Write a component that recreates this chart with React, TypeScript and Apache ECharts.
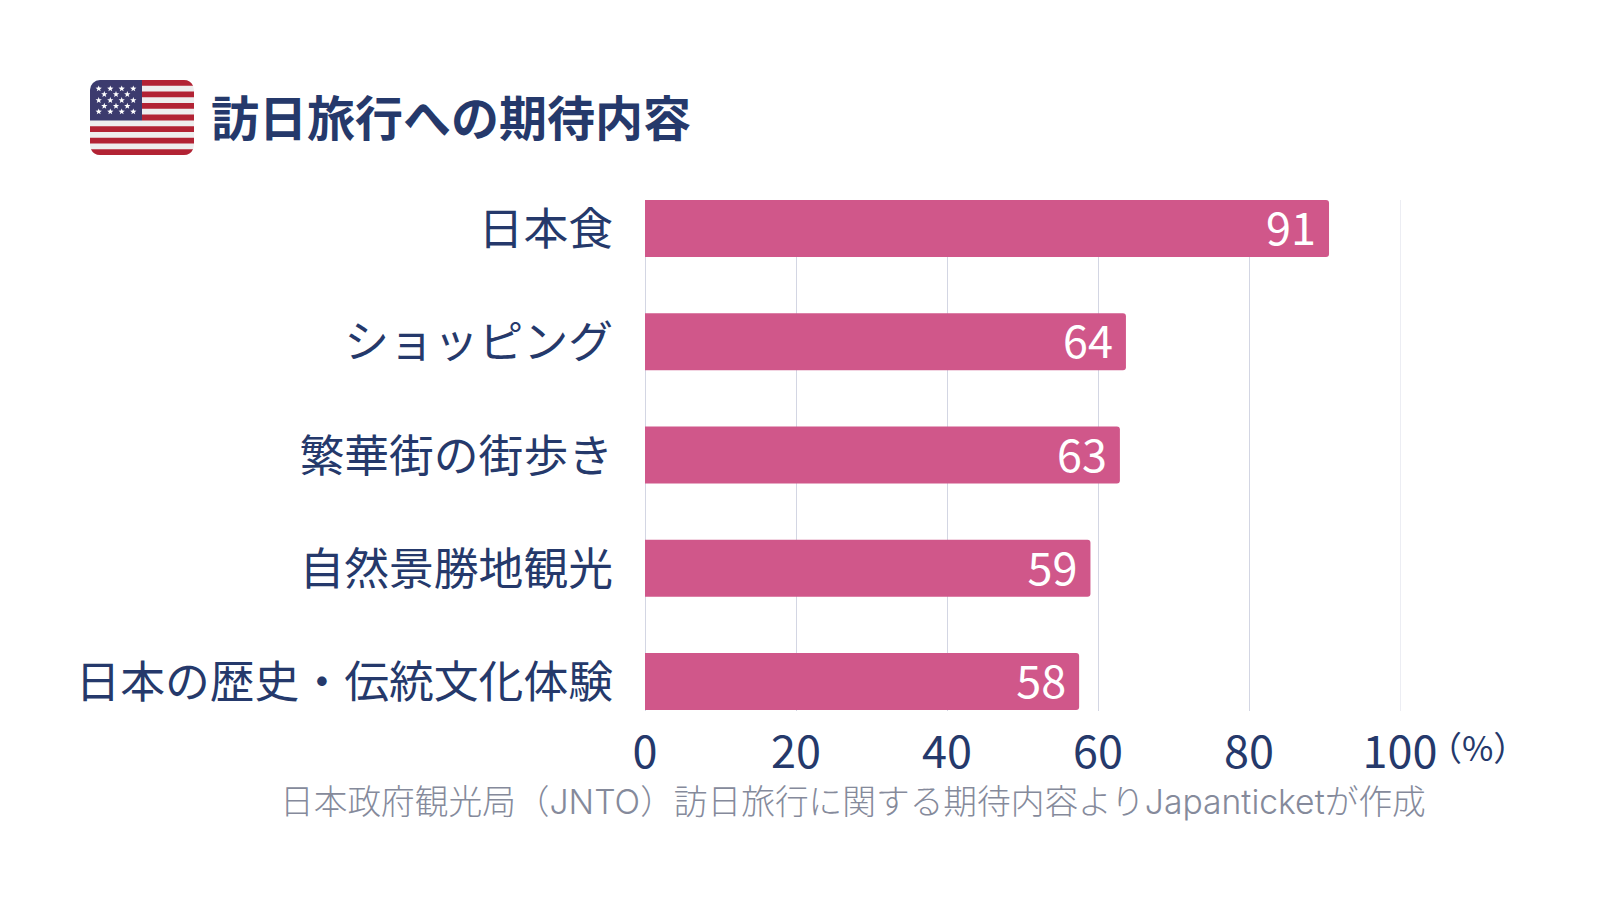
import React, { useEffect, useRef } from "react";
import * as echarts from "echarts";

const categories = ["日本食", "ショッピング", "繁華街の街歩き", "自然景勝地観光", "日本の歴史・伝統文化体験"];
const values = [90.6, 63.7, 62.9, 59, 57.5];
const valueLabels = ["91", "64", "63", "59", "58"];
const xTicks = [0, 20, 40, 60, 80, 100];
const titleText = "訪日旅行への期待内容";
const sourceText = "日本政府観光局（JNTO）訪日旅行に関する期待内容よりJapanticketが作成";
const unitText = "（%）";

const FONT = '"Noto Sans CJK JP", "Noto Sans", sans-serif';
const NAVY = "#25396B";

echarts.graphic.registerShape("flagCanton", echarts.graphic.extendPath("M10 0H52V40.4H0V10A10 10 0 0 1 10 0Z", {}));
echarts.graphic.registerShape(
  "flagStripes",
  echarts.graphic.extendPath(
    "M52 0H94A10 10 0 0 1 103.06 5.77H52Z M52 11.54H104V17.31H52Z M52 23.08H104V28.85H52Z M52 34.62H104V40.38H52Z M0 46.15H104V51.92H0Z M0 57.69H104V63.46H0Z M0.94 69.23H103.06A10 10 0 0 1 94 75H10A10 10 0 0 1 0.94 69.23Z",
    {}
  )
);

const star = (cx: number, cy: number, r: number) => {
  const pts: number[][] = [];
  for (let i = 0; i < 10; i++) {
    const a = -Math.PI / 2 + (i * Math.PI) / 5;
    const q = i % 2 ? r * 0.42 : r;
    pts.push([cx + q * Math.cos(a), cy + q * Math.sin(a)]);
  }
  return { type: "polygon", shape: { points: pts }, style: { fill: "#FFFFFF" } };
};

const starRows = [
  { y: 8.7, xs: [8.7, 20.3, 31.7, 43.3] },
  { y: 14.3, xs: [14.3, 26, 37.3] },
  { y: 20.3, xs: [8.7, 20.3, 31.7, 43.3] },
  { y: 26, xs: [14.3, 26, 37.3] },
  { y: 31.7, xs: [8.7, 20.3, 31.7, 43.3] },
];

export default function App() {
  const ref = useRef<HTMLDivElement>(null);
  useEffect(() => {
    document.body.style.margin = "0";
    const chart = echarts.init(ref.current!, undefined, { renderer: "svg" });
    chart.setOption({
      animation: false,
      backgroundColor: "#FFFFFF",
      grid: [
        { left: 645, top: 200, width: 755, height: 511 },
        { left: 645, top: 172, width: 755, height: 566 },
      ],
      xAxis: [
        {
          type: "value",
          gridIndex: 0,
          min: 0,
          max: 100,
          interval: 20,
          axisLine: { show: false },
          axisTick: { show: false },
          splitLine: {
            show: true,
            lineStyle: { color: ["#D3D6E3", "#D3D6E3", "#D3D6E3", "#D3D6E3", "#D3D6E3", "#ECEDF3"], width: 1 },
          },
          axisLabel: {
            color: NAVY,
            fontFamily: FONT,
            fontSize: 45,
            margin: 15,
            formatter: (v: number) => (xTicks.includes(v) ? String(v) : ""),
          },
        },
        {
          type: "value",
          gridIndex: 1,
          min: 0,
          max: 100,
          interval: 20,
          show: false,
        },
      ],
      yAxis: [
        { type: "category", gridIndex: 0, data: categories, inverse: true, show: false },
        {
          type: "category",
          gridIndex: 1,
          data: categories,
          inverse: true,
          axisLine: { show: false },
          axisTick: { show: false },
          splitLine: { show: false },
          axisLabel: {
            margin: 32,
            hideOverlap: false,
            interval: 0,
            formatter: (v: string) => `{a|${v}}`,
            rich: {
              a: { color: NAVY, fontFamily: FONT, fontSize: 44.8, padding: [0, 0, 6, 0] },
            },
          },
        },
      ],
      series: [
        {
          type: "bar",
          xAxisIndex: 1,
          yAxisIndex: 1,
          data: values,
          barWidth: 57,
          itemStyle: { color: "#D0578A", borderRadius: [0, 3, 3, 0] },
          label: {
            show: true,
            position: "insideRight",
            distance: 13,
            offset: [0, -3],
            color: "#FFFFFF",
            fontFamily: FONT,
            fontSize: 45,
            formatter: (p: { dataIndex: number }) => valueLabels[p.dataIndex],
          },
        },
      ],
      graphic: [
        {
          type: "group",
          x: 90,
          y: 80,
          children: [
            { type: "rect", shape: { x: 0, y: 0, width: 104, height: 75, r: 10 }, style: { fill: "#EEEEEE" } },
            { type: "flagStripes", style: { fill: "#B22334" } },
            { type: "flagCanton", style: { fill: "#3C3B6E" } },
            ...starRows.flatMap((row) => row.xs.map((x) => star(x, row.y, 3.3))),
          ],
        },
        {
          type: "text",
          x: 211,
          y: 115,
          style: { text: titleText, fill: NAVY, font: `700 48px ${FONT}`, textVerticalAlign: "middle" },
        },
        {
          type: "text",
          x: 1428,
          y: 746,
          style: { text: unitText, fill: NAVY, font: `400 34px ${FONT}`, textVerticalAlign: "middle" },
        },
        {
          type: "text",
          x: 280,
          y: 801,
          style: { text: sourceText, fill: "#858A9B", font: `300 33.7px Inter, ${FONT}`, textVerticalAlign: "middle" },
        },
      ],
    });
    return () => chart.dispose();
  }, []);
  return <div ref={ref} style={{ width: 1600, height: 900, position: "absolute", left: 0, top: 0 }} />;
}
